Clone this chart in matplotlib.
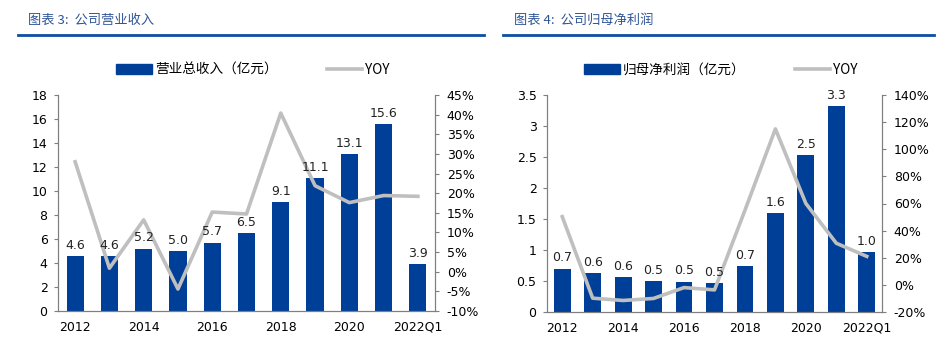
import matplotlib.pyplot as plt
from matplotlib.lines import Line2D
from matplotlib.patches import Patch
import matplotlib.ticker as mticker

plt.rcParams['font.family'] = ['DejaVu Sans', 'Noto Sans CJK SC']
plt.rcParams['axes.unicode_minus'] = False

# 数据
years = ['2012', '2013', '2014', '2015', '2016', '2017', '2018', '2019', '2020', '2021', '2022Q1']
revenue = [4.6, 4.6, 5.2, 5.0, 5.7, 6.5, 9.1, 11.1, 13.1, 15.6, 3.9]
revenue_yoy = [28.0, 0.9, 13.2, -4.4, 15.2, 14.7, 40.4, 21.9, 17.6, 19.4, 19.2]
profit = [0.70, 0.63, 0.56, 0.50, 0.49, 0.47, 0.74, 1.59, 2.53, 3.32, 0.97]
profit_yoy = [50.3, -9.8, -11.5, -10.0, -2.0, -3.7, 55.0, 115.0, 60.0, 30.7, 21.0]

BLUE = '#003f98'
GRAY = '#bfbfbf'
TITLE_BLUE = '#2f5597'
W, H = 942, 342
FS = 9

fig = plt.figure(figsize=(W / 100, H / 100), dpi=100)


def box(x0, y0, x1, y1):
    return [x0 / W, 1 - y1 / H, (x1 - x0) / W, (y1 - y0) / H]


def panel(rect, bars, yoy, ylim, yticks, y2lim, y2step, bar_w):
    ax = fig.add_axes(rect)
    x = list(range(len(years)))
    ax.bar(x, bars, width=bar_w, color=BLUE, zorder=2)
    ax.set_xlim(-0.5, len(years) - 0.5)
    ax.set_ylim(*ylim)
    ax.set_yticks(yticks)
    ax.yaxis.set_major_formatter(mticker.FuncFormatter(lambda v, p: f'{v:g}'))
    ax.set_xticks(x[::2])
    ax.set_xticklabels(years[::2])
    ax.tick_params(axis='x', length=0, pad=7, labelsize=FS)
    ax.tick_params(axis='y', length=3, pad=4.5, labelsize=FS, color='#7f7f7f')

    ax2 = ax.twinx()
    ax2.plot(x, yoy, color=GRAY, lw=2.6, zorder=3)
    ax2.set_ylim(*y2lim)
    ax2.yaxis.set_major_locator(mticker.MultipleLocator(y2step))
    ax2.yaxis.set_major_formatter(mticker.FuncFormatter(lambda v, p: f'{v:.0f}%'))
    ax2.tick_params(axis='y', length=3, pad=5.5, labelsize=FS, color='#7f7f7f')

    # 数值标签画在折线上层
    for xi, v in zip(x, bars):
        ax2.annotate(f'{v:.1f}', (xi, v), xycoords=ax.transData, xytext=(0, 3),
                     textcoords='offset points', ha='center', va='bottom',
                     fontsize=FS, color='#222222', zorder=5)

    for a in (ax, ax2):
        a.spines['top'].set_visible(False)
        for s in ('left', 'right', 'bottom'):
            a.spines[s].set_color('#7f7f7f')
            a.spines[s].set_linewidth(0.8)
    ax.set_zorder(ax2.get_zorder() - 1)
    ax2.patch.set_visible(False)
    return ax, ax2


panel(box(58, 95, 435, 311), revenue, revenue_yoy, (0, 18), range(0, 19, 2),
      (-10, 45), 5, 0.5)
panel(box(547, 95, 882, 312), profit, profit_yoy, (0, 3.5),
      [0, 0.5, 1, 1.5, 2, 2.5, 3, 3.5], (-20, 140), 20, 0.55)

# 标题与分隔线
fig.text(28 / W, 1 - 20 / H, '图表 3:  公司营业收入', fontsize=9.5, color=TITLE_BLUE,
         va='center', family=['Noto Sans CJK SC', 'DejaVu Sans'], style='italic')
fig.text(514 / W, 1 - 20 / H, '图表 4:  公司归母净利润', fontsize=9.5, color=TITLE_BLUE,
         va='center', family=['Noto Sans CJK SC', 'DejaVu Sans'], style='italic')
fig.add_artist(Line2D([18 / W, 484 / W], [1 - 34.5 / H] * 2, color='#0b4ea2', lw=2))
fig.add_artist(Line2D([503 / W, 934 / W], [1 - 34.5 / H] * 2, color='#0b4ea2', lw=2))

# 图例
for cx, label in ((253, '营业总收入（亿元）'), (721, '归母净利润（亿元）')):
    handles = [Patch(color=BLUE, label=label), Line2D([], [], color=GRAY, lw=2.6, label='YOY')]
    fig.legend(handles=handles, loc='center', bbox_to_anchor=(cx / W, 1 - 70 / H),
               ncol=2, frameon=False, handlelength=2.6, handleheight=0.7,
               handletextpad=0.25, columnspacing=3.6,
               prop={'family': ['Noto Sans CJK SC', 'DejaVu Sans'], 'size': 9.8})

fig.savefig('out.png', dpi=100)
